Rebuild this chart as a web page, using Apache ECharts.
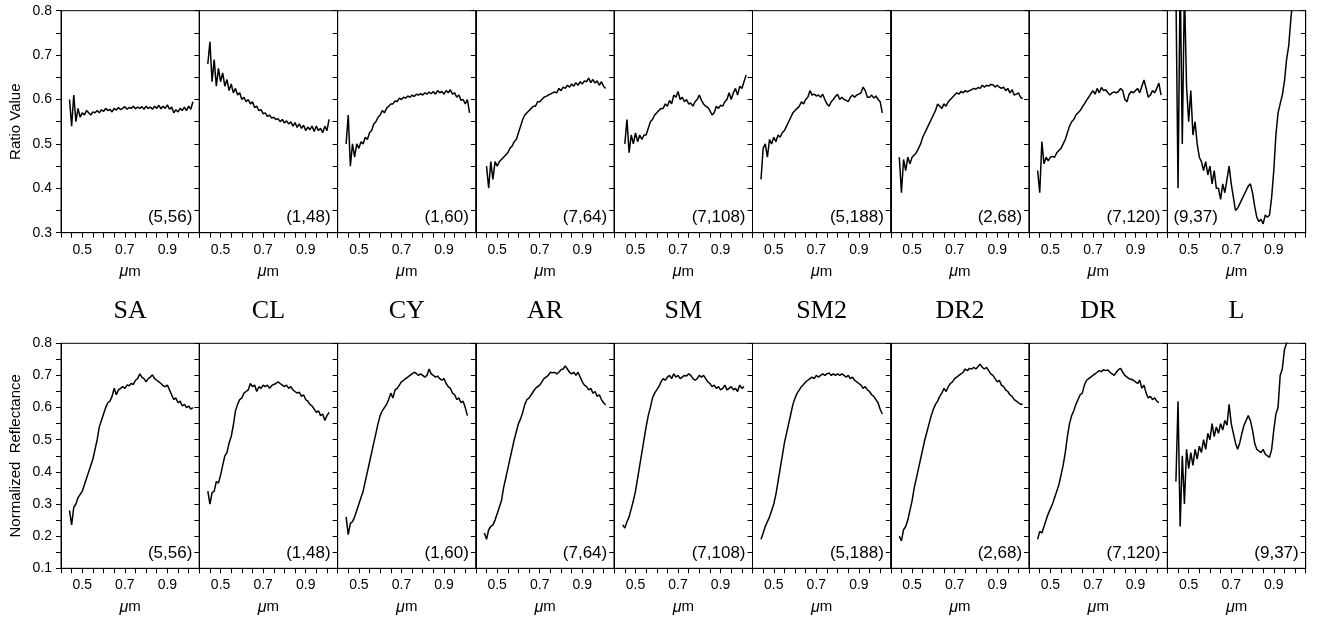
<!DOCTYPE html>
<html lang="en">
<head>
    <meta charset="UTF-8">
    <title>Ratio value / normalized reflectance</title>
    <style>
        body{margin:0;background-color:#fff}
        #main{width:1318px;height:622px}
    </style>
    <script src="https://cdn.jsdelivr.net/npm/echarts/dist/echarts.min.js"></script>
</head>
<body>
<div id="main"></div>
<script>
    // wavelength grid (um), 0.44 .. 1.02
    var wavelengths = [
        0.44,0.45,0.46,0.47,0.48,0.49,0.50,0.51,0.52,0.53,
        0.54,0.55,0.56,0.57,0.58,0.59,0.60,0.61,0.62,0.63,
        0.64,0.65,0.66,0.67,0.68,0.69,0.70,0.71,0.72,0.73,
        0.74,0.75,0.76,0.77,0.78,0.79,0.80,0.81,0.82,0.83,
        0.84,0.85,0.86,0.87,0.88,0.89,0.90,0.91,0.92,0.93,
        0.94,0.95,0.96,0.97,0.98,0.99,1.00,1.01,1.02
    ];
    var panelNames = ['SA','CL','CY','AR','SM','SM2','DR2','DR','L'];
    var panelCodes = ['(5,56)','(1,48)','(1,60)','(7,64)','(7,108)','(5,188)','(2,68)','(7,120)','(9,37)'];
    var xLabels = [0.5, 0.7, 0.9];

    // top row: ratio value
    var ratioSA = [
        0.60,0.54,0.61,0.55,0.58,0.56,0.57,0.565,0.575,0.57,
        0.565,0.572,0.57,0.575,0.57,0.577,0.573,0.58,0.575,0.578,
        0.572,0.58,0.576,0.582,0.577,0.58,0.584,0.578,0.582,0.58,
        0.585,0.579,0.583,0.58,0.584,0.578,0.585,0.58,0.583,0.578,
        0.585,0.58,0.587,0.579,0.585,0.58,0.588,0.578,0.583,0.57,
        0.577,0.572,0.58,0.575,0.583,0.575,0.585,0.578,0.595
    ];
    var ratioCL = [
        0.68,0.73,0.64,0.69,0.63,0.67,0.64,0.66,0.63,0.645,
        0.62,0.635,0.615,0.625,0.61,0.615,0.60,0.605,0.595,0.60,
        0.59,0.595,0.582,0.585,0.575,0.577,0.568,0.57,0.562,0.565,
        0.558,0.56,0.555,0.557,0.55,0.555,0.547,0.552,0.545,0.55,
        0.54,0.548,0.537,0.545,0.535,0.542,0.53,0.538,0.532,0.54,
        0.528,0.54,0.53,0.535,0.525,0.54,0.53,0.555,null
    ];
    var ratioCY = [
        0.50,0.565,0.45,0.50,0.47,0.50,0.49,0.505,0.50,0.515,
        0.51,0.525,0.53,0.545,0.55,0.56,0.565,0.575,0.57,0.58,
        0.585,0.59,0.59,0.597,0.595,0.603,0.60,0.605,0.603,0.608,
        0.605,0.61,0.607,0.612,0.61,0.613,0.61,0.615,0.612,0.617,
        0.613,0.618,0.612,0.62,0.615,0.618,0.612,0.62,0.615,0.622,
        0.612,0.615,0.605,0.61,0.598,0.60,0.59,0.60,0.57
    ];
    var ratioAR = [
        null,0.45,0.40,0.46,0.42,0.46,0.45,0.46,0.465,0.47,
        0.475,0.48,0.49,0.495,0.505,0.51,0.525,0.54,0.555,0.565,
        0.57,0.575,0.58,0.585,0.585,0.595,0.595,0.60,0.605,0.607,
        0.61,0.612,0.615,0.617,0.615,0.625,0.62,0.628,0.625,0.632,
        0.628,0.635,0.63,0.638,0.632,0.64,0.635,0.642,0.64,0.648,
        0.638,0.645,0.637,0.642,0.632,0.64,0.63,0.625,null
    ];
    var ratioSM = [
        null,0.50,0.555,0.48,0.52,0.50,0.525,0.505,0.52,0.51,
        0.52,0.52,0.535,0.55,0.555,0.565,0.57,0.575,0.58,0.58,
        0.59,0.585,0.598,0.59,0.61,0.605,0.618,0.60,0.605,0.595,
        0.60,0.59,0.592,0.585,0.595,0.60,0.61,0.598,0.59,0.585,
        0.582,0.575,0.565,0.57,0.585,0.58,0.587,0.585,0.595,0.60,
        0.615,0.60,0.615,0.625,0.61,0.63,0.625,0.64,0.655
    ];
    var ratioSM2 = [
        0.42,0.49,0.50,0.47,0.51,0.50,0.515,0.505,0.52,0.515,
        0.525,0.53,0.54,0.55,0.56,0.57,0.575,0.58,0.585,0.595,
        0.59,0.60,0.605,0.62,0.61,0.612,0.608,0.61,0.605,0.612,
        0.60,0.59,0.585,0.595,0.60,0.607,0.612,0.60,0.605,0.60,
        0.598,0.595,0.605,0.61,0.605,0.61,0.612,0.615,0.628,0.62,
        0.605,0.605,0.61,0.603,0.608,0.60,0.595,0.57,null
    ];
    var ratioDR2 = [
        0.47,0.39,0.465,0.44,0.47,0.455,0.47,0.475,0.48,0.49,
        0.50,0.515,0.525,0.535,0.545,0.555,0.565,0.575,0.59,0.585,
        0.58,0.59,0.585,0.595,0.60,0.605,0.61,0.615,0.612,0.618,
        0.615,0.62,0.617,0.62,0.622,0.625,0.623,0.627,0.625,0.632,
        0.628,0.632,0.63,0.634,0.633,0.628,0.632,0.628,0.625,0.628,
        0.62,0.625,0.615,0.622,0.61,0.612,0.615,0.605,0.602
    ];
    var ratioDR = [
        0.44,0.39,0.505,0.455,0.47,0.462,0.47,0.472,0.47,0.48,
        0.485,0.49,0.50,0.51,0.525,0.54,0.55,0.555,0.565,0.57,
        0.575,0.583,0.59,0.598,0.605,0.613,0.62,0.612,0.625,0.615,
        0.627,0.62,0.622,0.615,0.61,0.615,0.617,0.615,0.618,0.625,
        0.62,0.60,0.595,0.612,0.618,0.615,0.62,0.625,0.615,0.63,
        0.644,0.625,0.605,0.61,0.62,0.615,0.625,0.637,0.61
    ];
    var ratioL = [
        0.85,0.40,0.88,0.50,0.85,0.63,0.55,0.62,0.52,0.55,
        0.50,0.47,0.46,0.44,0.46,0.43,0.45,0.41,0.44,0.40,
        0.40,0.375,0.41,0.39,0.42,0.45,0.41,0.38,0.35,0.355,
        0.365,0.375,0.385,0.395,0.405,0.41,0.39,0.36,0.335,0.325,
        0.33,0.32,0.34,0.335,0.34,0.38,0.44,0.52,0.57,0.59,
        0.61,0.64,0.69,0.72,0.78,0.83,null,null,null
    ];

    // bottom row: normalized reflectance
    var reflSA = [
        0.28,0.235,0.29,0.30,0.32,0.33,0.34,0.36,0.38,0.40,
        0.42,0.44,0.47,0.50,0.54,0.56,0.58,0.60,0.615,0.62,
        0.635,0.66,0.64,0.655,0.66,0.665,0.66,0.67,0.668,0.675,
        0.672,0.685,0.69,0.705,0.695,0.69,0.68,0.69,0.695,0.702,
        0.69,0.685,0.68,0.675,0.668,0.665,0.67,0.655,0.64,0.625,
        0.63,0.615,0.62,0.605,0.61,0.60,0.605,0.595,0.60
    ];
    var reflCL = [
        0.34,0.30,0.335,0.34,0.37,0.365,0.39,0.42,0.45,0.46,
        0.49,0.51,0.545,0.59,0.61,0.625,0.63,0.645,0.65,0.655,
        0.675,0.665,0.67,0.65,0.665,0.66,0.67,0.665,0.67,0.66,
        0.668,0.672,0.675,0.68,0.675,0.67,0.665,0.67,0.66,0.665,
        0.655,0.65,0.645,0.648,0.635,0.64,0.625,0.62,0.61,0.605,
        0.595,0.585,0.59,0.575,0.58,0.56,0.575,0.585,null
    ];
    var reflCY = [
        0.26,0.205,0.24,0.245,0.26,0.28,0.30,0.32,0.34,0.37,
        0.40,0.43,0.46,0.49,0.52,0.55,0.575,0.59,0.60,0.61,
        0.625,0.645,0.63,0.655,0.66,0.67,0.68,0.685,0.69,0.695,
        0.70,0.705,0.71,0.706,0.70,0.705,0.70,0.695,0.70,0.72,
        0.705,0.70,0.695,0.698,0.69,0.685,0.69,0.675,0.665,0.66,
        0.645,0.64,0.625,0.63,0.615,0.62,0.60,0.575,null
    ];
    var reflAR = [
        0.21,0.19,0.22,0.23,0.235,0.25,0.27,0.29,0.31,0.35,
        0.38,0.41,0.44,0.47,0.50,0.525,0.55,0.565,0.585,0.61,
        0.625,0.63,0.64,0.65,0.66,0.665,0.67,0.68,0.69,0.695,
        0.70,0.71,0.708,0.71,0.705,0.71,0.718,0.72,0.73,0.72,
        0.71,0.705,0.71,0.70,0.71,0.695,0.68,0.67,0.665,0.655,
        0.66,0.645,0.65,0.635,0.64,0.625,0.615,0.608,null
    ];
    var reflSM = [
        0.235,0.225,0.245,0.26,0.285,0.31,0.34,0.38,0.42,0.46,
        0.50,0.54,0.575,0.60,0.63,0.645,0.655,0.665,0.68,0.69,
        0.685,0.695,0.70,0.69,0.705,0.695,0.70,0.69,0.695,0.70,
        0.698,0.705,0.70,0.69,0.685,0.69,0.70,0.695,0.70,0.69,
        0.68,0.675,0.665,0.67,0.66,0.665,0.655,0.66,0.67,0.655,
        0.66,0.665,0.655,0.66,0.65,0.67,0.66,0.665,null
    ];
    var reflSM2 = [
        0.19,0.21,0.23,0.245,0.26,0.28,0.30,0.33,0.37,0.41,
        0.45,0.49,0.52,0.55,0.58,0.61,0.63,0.645,0.655,0.665,
        0.672,0.68,0.685,0.69,0.695,0.69,0.70,0.695,0.70,0.705,
        0.70,0.705,0.708,0.70,0.705,0.70,0.705,0.70,0.705,0.70,
        0.695,0.70,0.69,0.695,0.685,0.68,0.675,0.67,0.66,0.665,
        0.655,0.65,0.64,0.635,0.625,0.615,0.595,0.58,null
    ];
    var reflDR2 = [
        0.20,0.185,0.22,0.23,0.25,0.28,0.31,0.35,0.38,0.41,
        0.44,0.47,0.50,0.525,0.55,0.575,0.595,0.61,0.62,0.635,
        0.645,0.66,0.65,0.665,0.675,0.68,0.69,0.695,0.70,0.705,
        0.71,0.72,0.715,0.722,0.72,0.725,0.72,0.728,0.735,0.725,
        0.72,0.725,0.715,0.705,0.70,0.69,0.68,0.685,0.67,0.665,
        0.655,0.65,0.64,0.635,0.625,0.62,0.615,0.61,0.61
    ];
    var reflDR = [
        0.19,0.215,0.21,0.23,0.25,0.27,0.285,0.30,0.32,0.34,
        0.36,0.39,0.42,0.46,0.51,0.55,0.575,0.59,0.61,0.625,
        0.64,0.645,0.67,0.685,0.69,0.695,0.70,0.705,0.71,0.715,
        0.712,0.718,0.715,0.717,0.71,0.705,0.70,0.71,0.718,0.722,
        0.71,0.70,0.695,0.69,0.688,0.685,0.68,0.675,0.685,0.66,
        0.67,0.645,0.63,0.635,0.625,0.63,0.62,0.615,null
    ];
    var reflL = [
        0.37,0.62,0.23,0.45,0.30,0.47,0.41,0.46,0.42,0.47,
        0.44,0.48,0.46,0.50,0.47,0.52,0.50,0.55,0.51,0.54,
        0.52,0.55,0.53,0.56,0.545,0.61,0.55,0.52,0.49,0.47,
        0.49,0.52,0.545,0.56,0.575,0.56,0.53,0.49,0.47,0.465,
        0.46,0.47,0.455,0.45,0.445,0.47,0.53,0.58,0.60,0.70,
        0.72,0.78,0.80,0.85,null,null,null,null,null
    ];

    var ratioRows = [ratioSA, ratioCL, ratioCY, ratioAR, ratioSM, ratioSM2, ratioDR2, ratioDR, ratioL];
    var reflRows = [reflSA, reflCL, reflCY, reflAR, reflSM, reflSM2, reflDR2, reflDR, reflL];

    var panelLeft = 61, panelW = 138.3;
    var rows = [
        {top: 10.7, height: 222, min: 0.3, max: 0.8, name: 'Ratio Value', values: ratioRows, codeY: 217},
        {top: 343.3, height: 225, min: 0.1, max: 0.8, name: 'Normalized  Reflectance', values: reflRows, codeY: 553}
    ];
    var sans = 'Liberation Sans, Arial, sans-serif';

    function isLabel(v) {
        for (var k = 0; k < xLabels.length; k++) {
            if (Math.abs(v - xLabels[k]) < 1e-6) return true;
        }
        return false;
    }

    var grids = [], xAxes = [], yAxes = [], series = [], graphics = [];
    for (var r = 0; r < rows.length; r++) {
        var row = rows[r];
        for (var c = 0; c < panelNames.length; c++) {
            var gi = grids.length;
            var left = panelLeft + c * panelW;
            grids.push({left: left, top: row.top, width: panelW, height: row.height,
                show: true, borderColor: '#000', borderWidth: 1});
            xAxes.push({
                gridIndex: gi, type: 'value', min: 0.4, max: 1.05, interval: 0.05,
                axisLine: {lineStyle: {color: '#000', width: 1}},
                axisTick: {length: 5, lineStyle: {color: '#000'}},
                splitLine: {show: false},
                axisLabel: {color: '#000', fontFamily: sans, fontSize: 14, margin: 10,
                    formatter: function (v) { return isLabel(v) ? v.toFixed(1) : ''; }},
                name: '{i|\u03bc}m', nameLocation: 'middle', nameGap: 31,
                nameTextStyle: {color: '#000', fontFamily: sans, fontSize: 15,
                    rich: {i: {fontStyle: 'italic', fontFamily: sans, fontSize: 16, color: '#000'}}}
            });
            // right edge with inward ticks
            var yRight = yAxes.length;
            yAxes.push({
                gridIndex: gi, type: 'value', position: 'right', min: row.min, max: row.max, interval: 0.05,
                axisLine: {show: true, lineStyle: {color: '#000'}},
                axisTick: {show: true, inside: true, length: 5, lineStyle: {color: '#000'}},
                axisLabel: {show: false}, splitLine: {show: false}
            });
            if (c === 0) {
                yAxes.push({
                    gridIndex: gi, type: 'value', position: 'left', min: row.min, max: row.max, interval: 0.05,
                    axisLine: {show: true, lineStyle: {color: '#000'}},
                    axisTick: {show: true, length: 5, lineStyle: {color: '#000'}},
                    splitLine: {show: false},
                    axisLabel: {color: '#000', fontFamily: sans, fontSize: 14, margin: 9,
                        formatter: function (v) {
                            var t = Math.round(v * 100);
                            return t % 10 === 0 ? (t / 100).toFixed(1) : '';
                        }},
                    name: row.name, nameLocation: 'middle', nameGap: 38, nameRotate: 90,
                    nameTextStyle: {color: '#000', fontFamily: sans, fontSize: 15}
                });
            }
            var vals = row.values[c];
            series.push({
                type: 'line', xAxisIndex: gi, yAxisIndex: yRight,
                data: wavelengths.map(function (w, i) { return [w, vals[i]]; }),
                showSymbol: false, connectNulls: false, clip: true,
                lineStyle: {color: '#000', width: 1.5}
            });
            // the L ratio panel carries its label on the left
            var codeLeft = (r === 0 && c === panelNames.length - 1);
            graphics.push({
                type: 'text', x: codeLeft ? left + 6 : left + panelW - 7, y: row.codeY,
                style: {text: panelCodes[c], font: '17px ' + sans, fill: '#000',
                    textAlign: codeLeft ? 'left' : 'right', textVerticalAlign: 'middle'}
            });
            if (r === 0) {
                graphics.push({
                    type: 'text', x: left + panelW / 2, y: 311,
                    style: {text: panelNames[c], font: '26px Liberation Serif, DejaVu Serif, serif', fill: '#000',
                        textAlign: 'center', textVerticalAlign: 'middle'}
                });
            }
        }
    }

    var myChart = echarts.init(document.getElementById('main'));
    myChart.setOption({
        animation: false,
        backgroundColor: '#fff',
        grid: grids,
        xAxis: xAxes,
        yAxis: yAxes,
        series: series,
        graphic: graphics
    });
</script>
</body>
</html>
